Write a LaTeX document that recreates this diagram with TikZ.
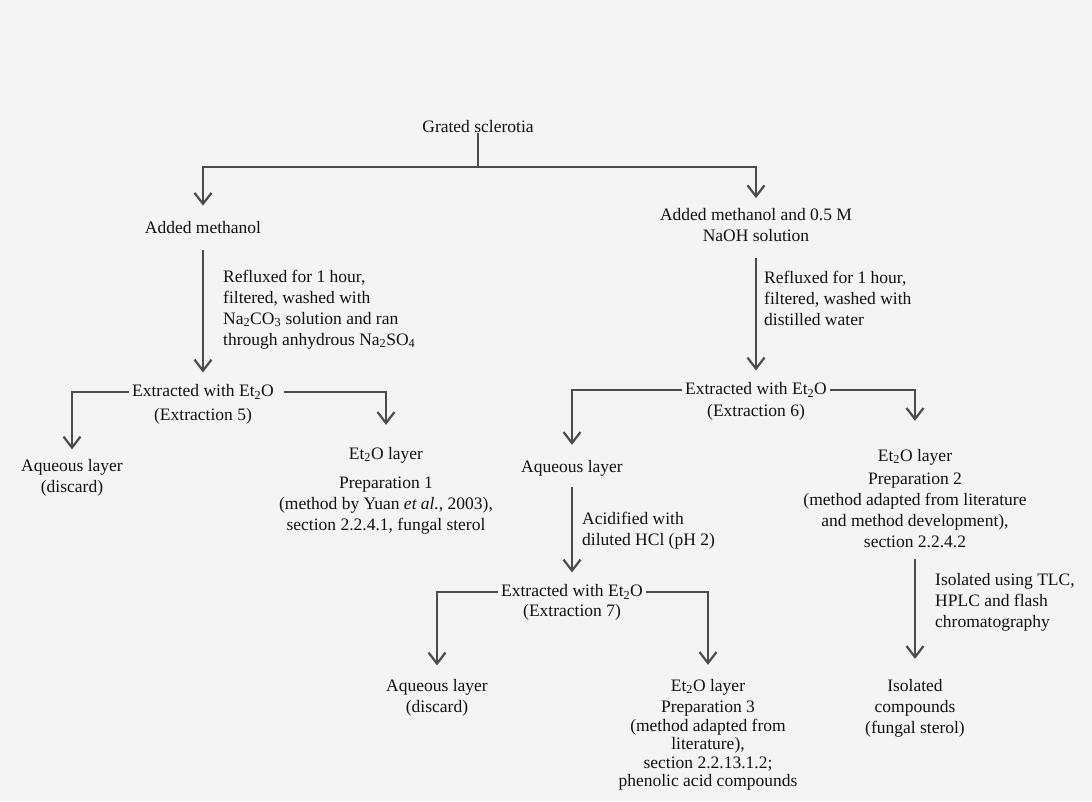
\documentclass[tikz,border=0pt]{standalone}
\usepackage{fontspec}
\setmainfont{Liberation Serif}
\usepackage{tikz}
\usetikzlibrary{arrows.meta,positioning}

\definecolor{inkc}{HTML}{111111}
\definecolor{linec}{HTML}{4C4C4C}
\definecolor{paperc}{HTML}{F4F4F4}

\begin{document}
\begin{tikzpicture}[x=1pt,y=-1pt,
    every node/.style={font=\fontsize{17.5}{21}\selectfont,text=inkc,
      inner sep=0pt,align=center},
    flow/.style={draw=linec,line width=2.4pt,
      -{Straight Barb[length=11pt,width=17pt,line width=2.2pt]}},
    plain/.style={draw=linec,line width=2.4pt},
    remark/.style={align=left}]
  \useasboundingbox (0,0) rectangle (1092,801);
  \fill[paperc] (0,0) rectangle (1092,801);

  % top split
  \node (grated) at (478,127) {Grated sclerotia};
  \coordinate (split) at (478,167);
  \node (meth) at (203,228) {Added methanol};
  \node (naoh) at (756,225) {Added methanol and 0.5 M\\NaOH solution};
  \draw[plain] (grated) -- (split);
  \draw[flow,shorten >=16pt] (split) -| (meth);
  \draw[flow,shorten >=10pt] (split) -| (naoh);

  % left branch
  \node (ext5) at (203,392) {Extracted with Et\textsubscript{2}O};
  \node (ext5n) at (203,416) {(Extraction 5)};
  \node (aq5) at (72,478) {Aqueous layer\\(discard)};
  \node (et5) at (386,455) {Et\textsubscript{2}O layer};
  \node (prep1) at (386,506) {Preparation 1\\(method by Yuan \textit{et al.}, 2003),\\section 2.2.4.1, fungal sterol};
  \path[flow] (meth) edge[shorten <=16pt,shorten >=12pt]
    node[remark,right=19pt] (refl5) {Refluxed for 1 hour,\\filtered, washed with\\Na\textsubscript{2}CO\textsubscript{3} solution and ran\\through anhydrous Na\textsubscript{2}SO\textsubscript{4}} (ext5);
  \draw[flow,shorten <=3pt,shorten >=10pt] (ext5) -| (aq5);
  \draw[flow,shorten <=10pt,shorten >=22pt] (ext5) -| (et5);

  % right branch
  \node (ext6) at (756,390) {Extracted with Et\textsubscript{2}O};
  \node (ext6n) at (756,412) {(Extraction 6)};
  \node (aq6) at (572,468) {Aqueous layer};
  \node (et6) at (915,457) {Et\textsubscript{2}O layer};
  \node (prep2) at (915,510) {Preparation 2\\(method adapted from literature\\and method development),\\section 2.2.4.2};
  \path[flow] (naoh) edge[shorten <=16pt,shorten >=12pt]
    node[remark,right=7pt,pos=0.4] (refl6) {Refluxed for 1 hour,\\filtered, washed with\\distilled water} (ext6);
  \draw[flow,shorten <=3pt,shorten >=15pt] (ext6) -| (aq6);
  \draw[flow,shorten <=3pt,shorten >=28pt] (ext6) -| (et6);

  % acidified aqueous layer
  \node (ext7) at (572,592) {Extracted with Et\textsubscript{2}O};
  \node (ext7n) at (572,612) {(Extraction 7)};
  \node (aq7) at (437,698) {Aqueous layer\\(discard)};
  \node (et7) at (708,687) {Et\textsubscript{2}O layer};
  \node[font=\fontsize{17.5}{18.5}\selectfont] (prep3) at (708,746) {Preparation 3\\(method adapted from\\literature),\\section 2.2.13.1.2;\\phenolic acid compounds};
  \path[flow] (aq6) edge[shorten <=11pt,shorten >=12pt]
    node[remark,right=9pt] (acid) {Acidified with\\diluted HCl (pH 2)} (ext7);
  \draw[flow,shorten <=3pt,shorten >=14pt] (ext7) -| (aq7);
  \draw[flow,shorten <=3pt,shorten >=14pt] (ext7) -| (et7);

  % isolation
  \node (iso) at (915,708) {Isolated\\compounds\\(fungal sterol)};
  \path[flow] (prep2) edge[shorten <=11pt,shorten >=20pt]
    node[remark,right=19pt,pos=0.42] (isonote) {Isolated using TLC,\\HPLC and flash\\chromatography} (iso);
\end{tikzpicture}
\end{document}
